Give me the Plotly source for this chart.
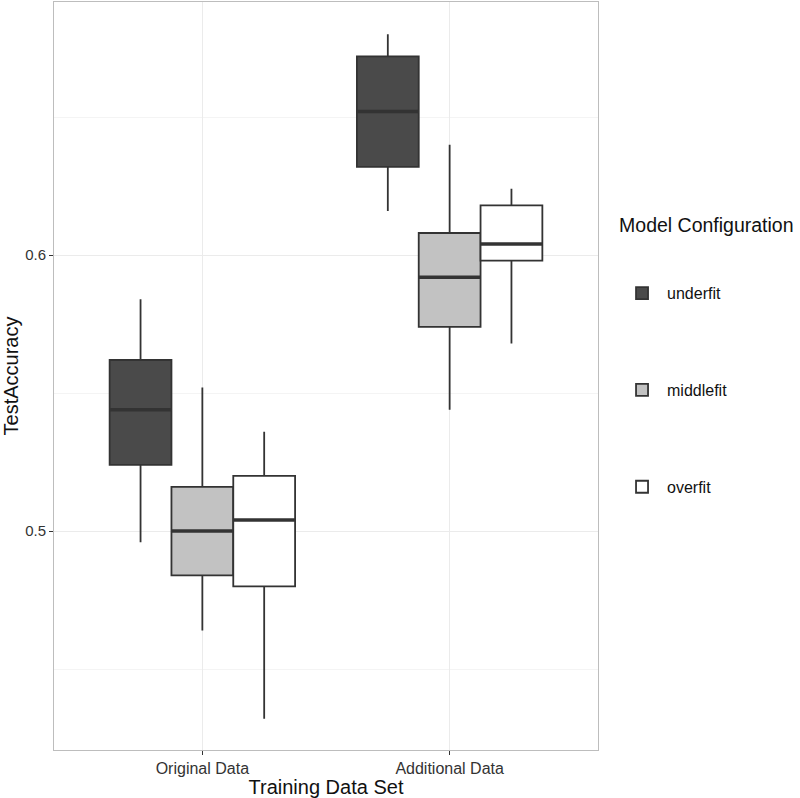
import plotly.graph_objects as go

categories = ["Original Data", "Additional Data"]
configs = ["underfit", "middlefit", "overfit"]

# five-number summaries per config, one value per category
lower = {"underfit": [0.496, 0.616], "middlefit": [0.464, 0.544], "overfit": [0.432, 0.568]}
q1 = {"underfit": [0.524, 0.632], "middlefit": [0.484, 0.574], "overfit": [0.480, 0.598]}
median = {"underfit": [0.544, 0.652], "middlefit": [0.500, 0.592], "overfit": [0.504, 0.604]}
q3 = {"underfit": [0.562, 0.672], "middlefit": [0.516, 0.608], "overfit": [0.520, 0.618]}
upper = {"underfit": [0.584, 0.680], "middlefit": [0.552, 0.640], "overfit": [0.536, 0.624]}

fills = {"underfit": "#4A4A4A", "middlefit": "#C2C2C2", "overfit": "#FFFFFF"}
line_col = "#333333"
FONT = "Liberation Sans, Arial, sans-serif"

box_w = 0.25
offsets = {"underfit": -0.25, "middlefit": 0.0, "overfit": 0.25}

fig = go.Figure()
for c in configs:
    xs = [i + offsets[c] for i in range(len(categories))]
    fig.add_trace(go.Box(
        x=xs, q1=q1[c], median=median[c], q3=q3[c],
        lowerfence=lower[c], upperfence=upper[c],
        width=box_w, whiskerwidth=0,
        fillcolor=fills[c], line=dict(color=line_col, width=1.8),
        name=c, legendgroup=c, boxpoints=False, hoverinfo="skip",
    ))
for c in configs:
    xs, ys = [], []
    for i in range(len(categories)):
        p = i + offsets[c]
        xs += [p - box_w / 2, p + box_w / 2, None]
        ys += [median[c][i], median[c][i], None]
    fig.add_trace(go.Scatter(x=xs, y=ys, mode="lines",
                             line=dict(color=line_col, width=3.5),
                             showlegend=False, hoverinfo="skip"))

fig.update_layout(
    width=800, height=798,
    margin=dict(l=54, r=202, t=2, b=48),
    paper_bgcolor="white", plot_bgcolor="white",
    boxmode="overlay",
    font=dict(family=FONT, color="#222222"),
    legend=dict(
        title=dict(text="<span style='font-size:19.5px'>Model Configuration</span><br> <br> ",
                   font=dict(size=17, color="#111111")),
        x=1.035, xanchor="left", y=0.722, yanchor="top",
        font=dict(size=16, color="#111111"),
        tracegroupgap=73, itemwidth=40,
    ),
)
fig.update_xaxes(
    range=[-0.6, 1.6], tickmode="array", tickvals=list(range(len(categories))),
    ticktext=categories, tickfont=dict(size=16, color="#333333"),
    ticks="outside", ticklen=4, tickcolor="#333333",
    showgrid=True, gridcolor="#EBEBEB", gridwidth=1, zeroline=False,
    showline=True, linecolor="#BDBDBD", linewidth=1, mirror=True,
    title=dict(text="Training Data Set", font=dict(size=20, color="#111111"), standoff=2),
)
fig.update_yaxes(
    range=[0.4207, 0.6917], dtick=0.1, tick0=0, tickformat=".1f",
    tickfont=dict(size=15, color="#333333"),
    ticks="outside", ticklen=4, tickcolor="#333333",
    showgrid=True, gridcolor="#EBEBEB", gridwidth=1, zeroline=False,
    minor=dict(dtick=0.05, tick0=0, showgrid=True, gridcolor="#F4F4F4", gridwidth=1, ticks=""),
    showline=True, linecolor="#BDBDBD", linewidth=1, mirror=True,
    title=dict(text="TestAccuracy", font=dict(size=20, color="#111111"), standoff=4),
)

fig.write_html("out.html", config={"displayModeBar": False},
               post_script="document.body.style.margin='0';")
